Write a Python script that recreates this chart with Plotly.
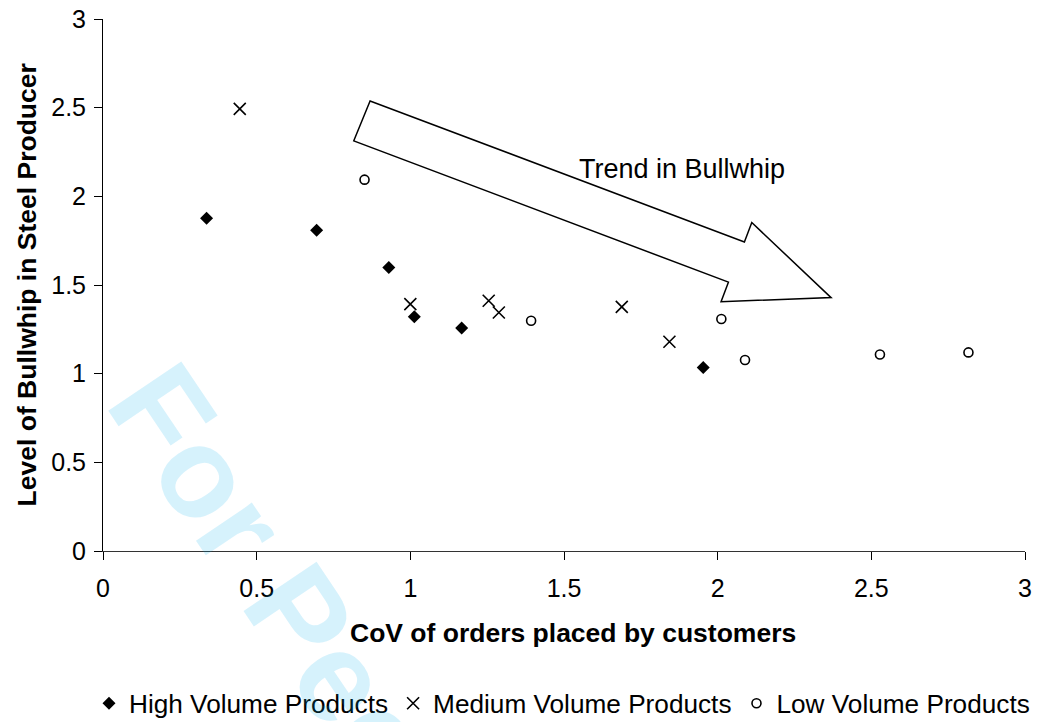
import plotly.graph_objects as go

# ---- data ----
high_x = [0.337, 0.695, 0.930, 1.013, 1.167, 1.953]
high_y = [1.877, 1.809, 1.599, 1.321, 1.257, 1.035]

med_x = [0.445, 1.000, 1.255, 1.288, 1.688, 1.843]
med_y = [2.493, 1.392, 1.411, 1.345, 1.377, 1.180]

low_x = [0.851, 1.393, 2.012, 2.089, 2.528, 2.816]
low_y = [2.094, 1.298, 1.308, 1.077, 1.108, 1.120]

series_names = ["High Volume Products", "Medium Volume Products", "Low Volume Products"]
x_ticks = [0, 0.5, 1, 1.5, 2, 2.5, 3]
x_tick_labels = ["0", "0.5", "1", "1.5", "2", "2.5", "3"]
y_ticks = [0, 0.5, 1, 1.5, 2, 2.5, 3]
y_tick_labels = ["0", "0.5", "1", "1.5", "2", "2.5", "3"]

# block-arrow outline (data coordinates), annotation text
arrow_x = [0.869, 0.816, 2.035, 2.011, 2.369, 2.111, 2.087]
arrow_y = [2.538, 2.313, 1.516, 1.406, 1.429, 1.852, 1.743]
arrow_label = "Trend in Bullwhip"
arrow_label_pos = (1.885, 2.155)

FONT = "Liberation Sans, Arial, Helvetica, sans-serif"

fig = go.Figure()
fig.add_trace(go.Scatter(
    x=high_x, y=high_y, mode="markers", name=series_names[0],
    marker=dict(symbol="diamond", size=10, color="black", line=dict(width=0)),
))
fig.add_trace(go.Scatter(
    x=med_x, y=med_y, mode="markers", name=series_names[1],
    marker=dict(symbol="x-thin", size=12, color="black", line=dict(width=1.6, color="black")),
))
fig.add_trace(go.Scatter(
    x=low_x, y=low_y, mode="markers", name=series_names[2],
    marker=dict(symbol="circle-open", size=9, color="black", line=dict(width=1.6, color="black")),
))

path = "M " + " L ".join(f"{x},{y}" for x, y in zip(arrow_x, arrow_y)) + " Z"
fig.add_shape(type="path", path=path, xref="x", yref="y",
              line=dict(color="black", width=1.5), fillcolor="rgba(255,255,255,0)")

fig.add_annotation(x=arrow_label_pos[0], y=arrow_label_pos[1], xref="x", yref="y",
                   xanchor="center", yanchor="middle",
                   text=arrow_label, showarrow=False,
                   font=dict(family=FONT, size=27, color="black"))

# axis titles
fig.add_annotation(x=0.510, y=-0.155, xref="paper", yref="paper",
                   xanchor="center", yanchor="middle",
                   text="<b>CoV of orders placed by customers</b>", showarrow=False,
                   font=dict(family=FONT, size=26.5, color="black"))
fig.add_annotation(x=-0.082, y=0.5, xref="paper", yref="paper", textangle=-90,
                   xanchor="center", yanchor="middle",
                   text="<b>Level of Bullwhip in Steel Producer</b>", showarrow=False,
                   font=dict(family=FONT, size=26.5, color="black"))

# watermark
fig.add_annotation(x=0.3425, y=-0.452, xref="paper", yref="paper", textangle=56,
                   xanchor="center", yanchor="middle",
                   text="<b>For Peer Review</b>", showarrow=False,
                   font=dict(family=FONT, size=128, color="rgba(0,174,239,0.16)"))

# the page body adds an 8px offset, margins compensate for it
fig.update_layout(
    width=1040, height=722,
    margin=dict(l=95, r=23, t=11, b=179, autoexpand=False),
    paper_bgcolor="white", plot_bgcolor="white",
    font=dict(family=FONT, size=25, color="black"),
    showlegend=True,
    legend=dict(orientation="h", x=-0.0152, y=-0.287, xanchor="left", yanchor="middle",
                font=dict(family=FONT, size=26.2, color="black"),
                bgcolor="rgba(0,0,0,0)"),
    xaxis=dict(range=[0, 3], tickvals=x_ticks, ticktext=x_tick_labels,
               showgrid=False, zeroline=False, showline=True, linecolor="#333", linewidth=1,
               ticks="outside", ticklen=8, tickcolor="black", tickwidth=1,
               ticklabelstandoff=7, automargin=False, ticklabeloverflow="allow",
               tickfont=dict(family=FONT, size=25, color="black")),
    yaxis=dict(range=[0, 3], tickvals=y_ticks, ticktext=y_tick_labels,
               showgrid=False, zeroline=False, showline=True, linecolor="black", linewidth=1,
               ticks="outside", ticklen=8, tickcolor="black", tickwidth=1,
               ticklabelstandoff=3, automargin=False, ticklabeloverflow="allow",
               tickfont=dict(family=FONT, size=25, color="black")),
)

fig.write_html("out.html")
